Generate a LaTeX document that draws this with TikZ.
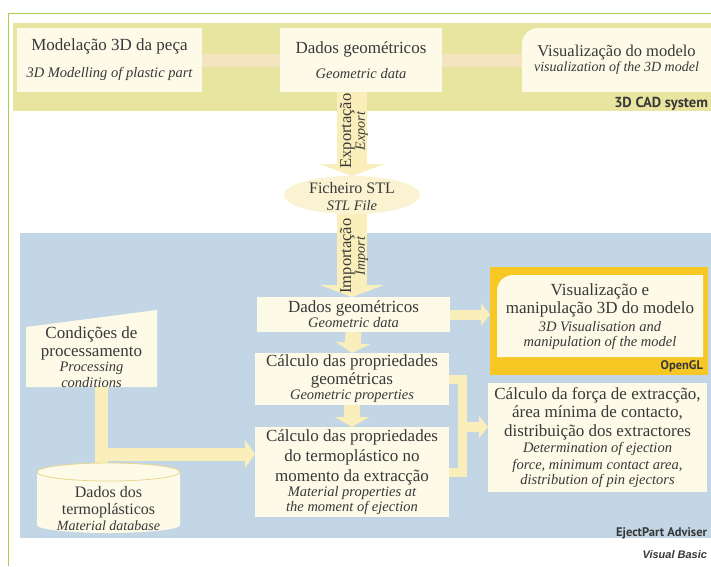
\documentclass[tikz,border=0pt]{standalone}
\usepackage{fontspec}
\setmainfont{Liberation Serif}
\newfontfamily\hdfont{PT Sans}
\newfontfamily\vbfont{Liberation Sans}
\usetikzlibrary{arrows.meta,shapes.geometric}
\definecolor{frameg}{HTML}{A8D04E}
\definecolor{band}{HTML}{E7E59F}
\definecolor{cream}{HTML}{FDFAE8}
\definecolor{peach}{HTML}{F4E4C0}
\definecolor{panel}{HTML}{C3D6E5}
\definecolor{pale}{HTML}{FAEEBB}
\definecolor{gold}{HTML}{F7C724}
\definecolor{txt}{HTML}{383838}
\definecolor{stlc}{HTML}{FBF2D2}
\definecolor{cyl}{HTML}{E9D68E}
\newcommand\fsub{\fontsize{14.5}{14}\selectfont\itshape}
\newcommand\fhead{\hdfont\bfseries\fontsize{12.5}{14}\selectfont}
\pgfdeclarelayer{bg}
\pgfdeclarelayer{conn}
\pgfsetlayers{bg,conn,main}
\begin{document}
\begin{tikzpicture}[x=1pt,y=-1pt,
  every node/.style={text=txt,inner sep=0pt,outer sep=0pt},
  cbox/.style={fill=cream,align=center},
  mfont/.style={font=\fontsize{17}{#1}\selectfont},
  ]
\useasboundingbox (0,0) rectangle (711,566);

\begin{pgfonlayer}{bg}
\fill[white] (0,0) rectangle (711,566);
\draw[frameg,line width=1.6pt] (8.5,566) -- (8.5,13.5) -- (711,13.5);
\fill[band] (13,23) rectangle (711,111);
\fill[panel] (20,233) rectangle (711,538);
\end{pgfonlayer}

% ---- 3D CAD system band
\node[cbox,minimum width=185,minimum height=64,mfont=20] (m3d) at (109.5,60)
  {Modelação 3D da peça\\[7pt]{\fsub 3D Modelling of plastic part}};
\node[cbox,minimum width=162,minimum height=64,mfont=20] (geo1) at (361,60)
  {Dados geométricos\\[5pt]{\fsub Geometric data}};
\fill[cream] (711,92) -- (522,92) -- (522,44) arc[start angle=180,end angle=270,radius=16] -- (711,28) -- cycle;
\node[minimum width=189,minimum height=64,align=center,font=\fontsize{16.5}{15}\selectfont] (viz) at (616.5,60)
  {Visualização do modelo\\{\fontsize{14}{14}\selectfont\itshape visualization of the 3D model}};
\node[font=\hdfont\bfseries\fontsize{14.5}{16}\selectfont,anchor=east] (cad) at (708,104) {3D CAD system};

% ---- STL file
\node[ellipse,fill=stlc,minimum width=136,minimum height=38] (stl) at (352,195) {};
\node[align=center,font=\fontsize{16}{17}\selectfont] (stlt) at (352,197) {Ficheiro STL\\{\fsub STL File}};
\node[rotate=90,align=center,font=\fontsize{16.5}{12}\selectfont] (exp) at (354,131)
  {Exportação\\{\fontsize{14}{12}\selectfont\itshape Export}};
\node[rotate=90,align=center,font=\fontsize{16.5}{12}\selectfont] (imp) at (354,256)
  {Importação\\{\fontsize{14}{12}\selectfont\itshape Import}};

% ---- EjectPart column
\node[cbox,minimum width=193,minimum height=35,mfont=15] (geo2) at (353.5,314.5)
  {Dados geométricos\\{\fsub Geometric data}};
\node[cbox,minimum width=194,minimum height=52,mfont=18] (calcgeo) at (352,379)
  {Cálculo das propriedades\\geométricas\\[-3pt]{\fsub Geometric properties}};
\node[cbox,minimum width=194,minimum height=90,mfont=20] (calctermo) at (352,472)
  {Cálculo das propriedades\\do termoplástico no\\momento da extracção\\[-5pt]{\fsub Material properties at}\\[-5pt]{\fsub the moment of ejection}};

% ---- OpenGL
\node[fill=gold,minimum width=218,minimum height=108] (ogl) at (599,321) {};
\fill[cream] (703,357) -- (497,357) -- (497,291) arc[start angle=180,end angle=270,radius=16] -- (703,275) -- cycle;
\node[align=center,mfont=18] (oglt) at (600,317)
  {Visualização e\\manipulação 3D do modelo\\{\fsub 3D Visualisation and}\\[-3pt]{\fsub manipulation of the model}};
\node[font=\fhead,anchor=east] (oglab) at (703,366) {OpenGL};

% ---- ejection
\node[cbox,minimum width=219,minimum height=109,mfont=18.5] (calcforce) at (597.5,437.5)
  {Cálculo da força de extracção,\\área mínima de contacto,\\distribuição dos extractores\\[-2pt]{\fsub Determination of ejection}\\[-2pt]{\fsub force, minimum contact area,}\\[-3pt]{\fsub distribution of pin ejectors}};

% ---- processing conditions
\fill[cream] (26,327) -- (157,310) -- (157,387) -- (26,387) -- cycle;
\node[align=center,minimum width=131,minimum height=60,mfont=18] (cond) at (91.5,357)
  {Condições de\\processamento\\[-3pt]{\fsub Processing}\\[-2pt]{\fsub conditions}};

% ---- material database cylinder
\fill[cream] (37,472) -- (37,525) arc[start angle=180,end angle=0,x radius=71.5,y radius=8]
  -- (180,472) arc[start angle=0,end angle=-180,x radius=71.5,y radius=9] -- cycle;
\draw[cyl,line width=0.8pt] (108.5,472) ellipse[x radius=71.5,y radius=9];
\node[align=center,font=\fontsize{16}{17}\selectfont] (db) at (108.5,509)
  {Dados dos\\termoplásticos\\[-1pt]{\fontsize{14}{14}\selectfont\itshape Material database}};
\coordinate (dbtop) at (101.5,470);
\coordinate (junc) at (101.5,454);
\coordinate (brk) at (462,427);

\node[font=\fhead,anchor=east] (ejp) at (707,533) {EjectPart Adviser};
\node[font=\vbfont\bfseries\itshape\fontsize{11}{12}\selectfont,anchor=east] (vb) at (707,555) {Visual Basic};

% ---- connectors
\begin{pgfonlayer}{conn}
\draw[peach,line width=13pt] (m3d.east) -- (geo1.west);
\draw[peach,line width=13pt] (geo1.east) -- (viz.west);
\draw[pale,line width=30pt,-{Triangle[width=64pt,length=12pt]}] (stl.north |- geo1.south) -- (stl.north);
\draw[pale,line width=30pt,-{Triangle[width=64pt,length=12pt]}] (stl.south) -- (stl.south |- geo2.north);
\draw[pale,line width=16pt,-{Triangle[width=34pt,length=10pt]}] (geo2.south) -- (calcgeo.north);
\draw[pale,line width=16pt,-{Triangle[width=34pt,length=10pt]}] (calcgeo.south) -- (calctermo.north);
\draw[pale,line width=10pt,-{Triangle[width=22pt,length=9pt]}] (geo2.east) -- (geo2.east -| ogl.west);
\draw[pale,line width=9pt] (calcgeo.east) -- ++(13,0) |- (calctermo.east);
\draw[pale,line width=10pt,-{Triangle[width=22pt,length=9pt]}] (brk) -- (brk -| calcforce.west);
\draw[pale,line width=13pt] ([xshift=10pt]cond.south) -- (dbtop);
\draw[pale,line width=13pt,-{Triangle[width=28pt,length=10pt]}] (junc) -- (junc -| calctermo.west);
\end{pgfonlayer}
\end{tikzpicture}
\end{document}
